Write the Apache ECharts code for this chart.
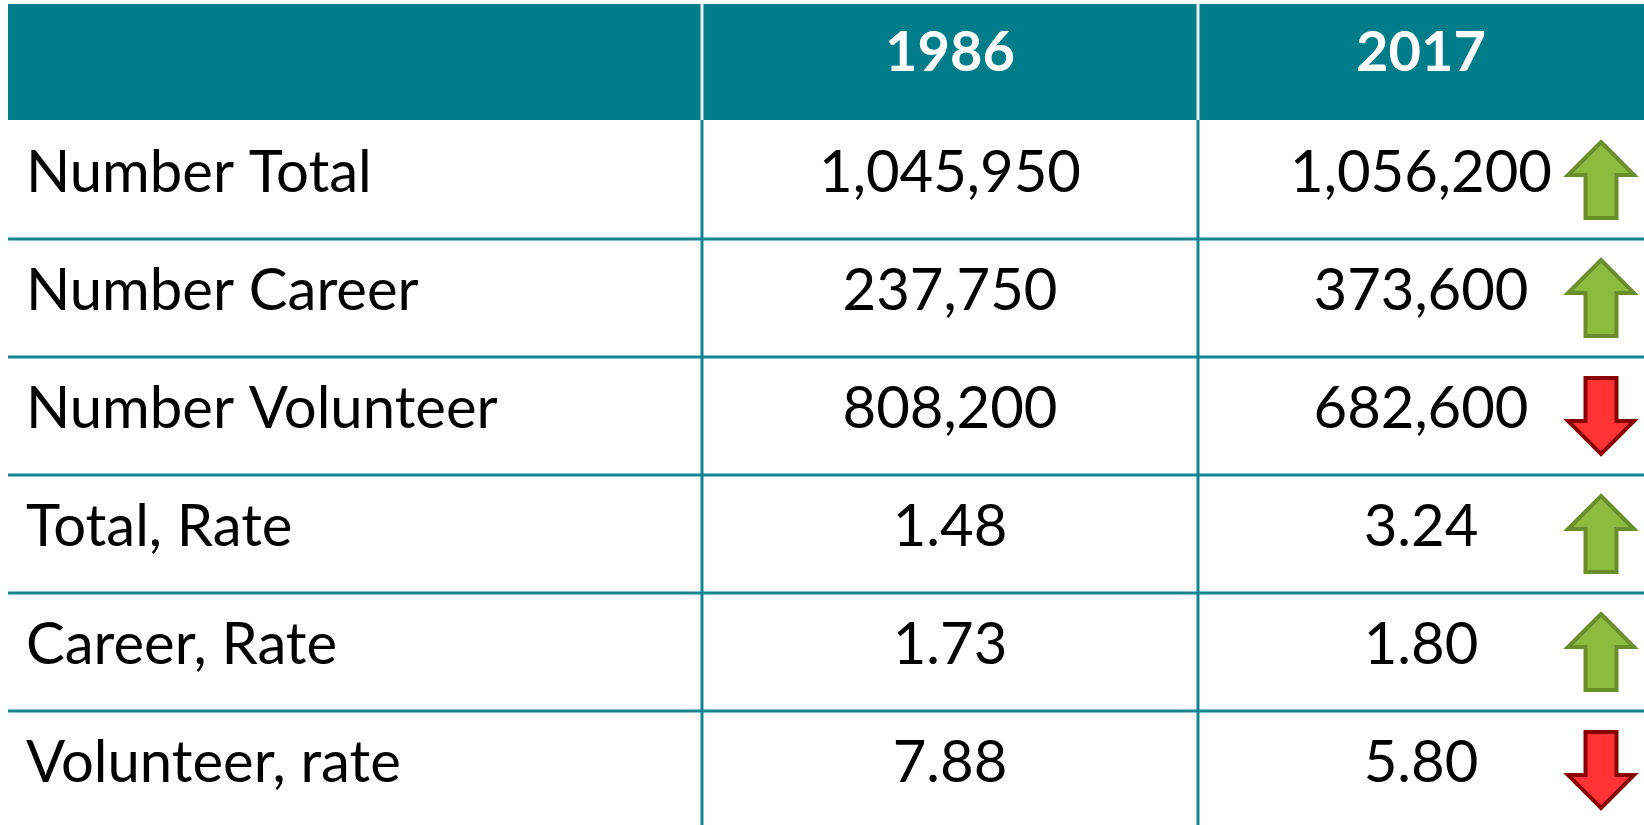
<!DOCTYPE html>
<html>
<head>
<meta charset="utf-8"/>
<title>Firefighters 1986 vs 2017</title>
<script src="https://cdn.jsdelivr.net/npm/echarts@6/dist/echarts.min.js"></script>
<style>
    html, body { margin: 0; padding: 0; background: #fff; }
    #main { width: 1644px; height: 825px; }
</style>
</head>
<body>
<div id="main"></div>
<script>
// table content
var headers = ['', '1986', '2017'];
var rowLabels = ['Number Total', 'Number Career', 'Number Volunteer', 'Total, Rate', 'Career, Rate', 'Volunteer, rate'];
var values1986 = [1045950, 237750, 808200, 1.48, 1.73, 7.88];
var values2017 = [1056200, 373600, 682600, 3.24, 1.80, 5.80];
var isRate = [false, false, false, true, true, true];

var TEAL = '#017d8a';
var LINE = '#138490';
var FONT = 'Lato';

// one grid per column (columns are not equal width)
var cols = [
    {left: 8, width: 694},
    {left: 702, width: 496},
    {left: 1198, width: 446}
];
var bands = ['head'].concat(rowLabels);

function fmt(v, i) {
    return isRate[i] ? v.toFixed(2) : v.toLocaleString('en-US');
}

function cellText(col, row) {
    if (row === 0) return headers[col];
    if (col === 0) return rowLabels[row - 1];
    var arr = col === 1 ? values1986 : values2017;
    return fmt(arr[row - 1], row - 1);
}

function arrow(cx, cy, up) {
    var hh = 38, hw = 33, sw = 15.5, head = 33;
    var d = up ? 1 : -1;
    var tip = cy - d * hh, base = tip + d * head, end = cy + d * hh;
    return {
        type: 'polygon',
        shape: {points: [[cx, tip], [cx + hw, base], [cx + sw, base], [cx + sw, end], [cx - sw, end], [cx - sw, base], [cx - hw, base]]},
        style: up ? {fill: '#8cbb3d', stroke: '#6a8e2b', lineWidth: 4}
                  : {fill: '#ff3333', stroke: '#8a0000', lineWidth: 4}
    };
}

function makeRender(col) {
    return function (params, api) {
        var row = api.value(1);
        var c = api.coord([0, row]);
        var s = api.size([1, 1]);
        var x0 = c[0] - s[0] / 2, y0 = c[1] - s[1] / 2;
        var kids = [];
        if (row === 0) {
            kids.push({type: 'rect', shape: {x: x0, y: y0 + 1, width: s[0], height: s[1] - 2}, style: {fill: TEAL}});
            if (col > 0) {
                kids.push({type: 'line', shape: {x1: x0, y1: y0 + 1, x2: x0, y2: y0 + s[1] - 1}, style: {stroke: '#e8f2f3', lineWidth: 3}});
            }
            kids.push({type: 'text', x: c[0], y: c[1] - 9, style: {
                text: cellText(col, row), fill: '#fff', fontFamily: FONT, fontWeight: 'bold', fontSize: 56,
                align: 'center', verticalAlign: 'middle'}});
        } else {
            kids.push({type: 'line', shape: {x1: x0, y1: y0 + s[1], x2: x0 + s[0], y2: y0 + s[1]}, style: {stroke: LINE, lineWidth: 3}});
            if (col > 0) {
                kids.push({type: 'line', shape: {x1: x0, y1: y0 - 1, x2: x0, y2: y0 + s[1]}, style: {stroke: LINE, lineWidth: 3}});
            }
            var isLabel = col === 0;
            kids.push({type: 'text', x: isLabel ? x0 + 18 : c[0], y: c[1] - 7, style: {
                text: cellText(col, row), fill: '#000', fontFamily: FONT, fontSize: 58,
                align: isLabel ? 'left' : 'center', verticalAlign: 'middle'}});
            if (col === 2) {
                var i = row - 1;
                kids.push(arrow(x0 + s[0] - 43, c[1], values2017[i] > values1986[i]));
            }
        }
        return {type: 'group', children: kids};
    };
}

var myChart = echarts.init(document.getElementById('main'));
var option = {
    animation: false,
    grid: cols.map(function (c) {
        return {left: c.left, top: 3, width: c.width, height: 826, outerBoundsMode: 'none'};
    }),
    xAxis: cols.map(function (c, i) {
        return {type: 'category', gridIndex: i, data: ['col' + i], show: false};
    }),
    yAxis: cols.map(function (c, i) {
        return {type: 'category', gridIndex: i, data: bands, inverse: true, show: false};
    }),
    series: cols.map(function (c, i) {
        return {
            type: 'custom',
            xAxisIndex: i,
            yAxisIndex: i,
            silent: true,
            data: bands.map(function (b, r) { return [0, r]; }),
            renderItem: makeRender(i)
        };
    })
};
myChart.setOption(option);
</script>
</body>
</html>
